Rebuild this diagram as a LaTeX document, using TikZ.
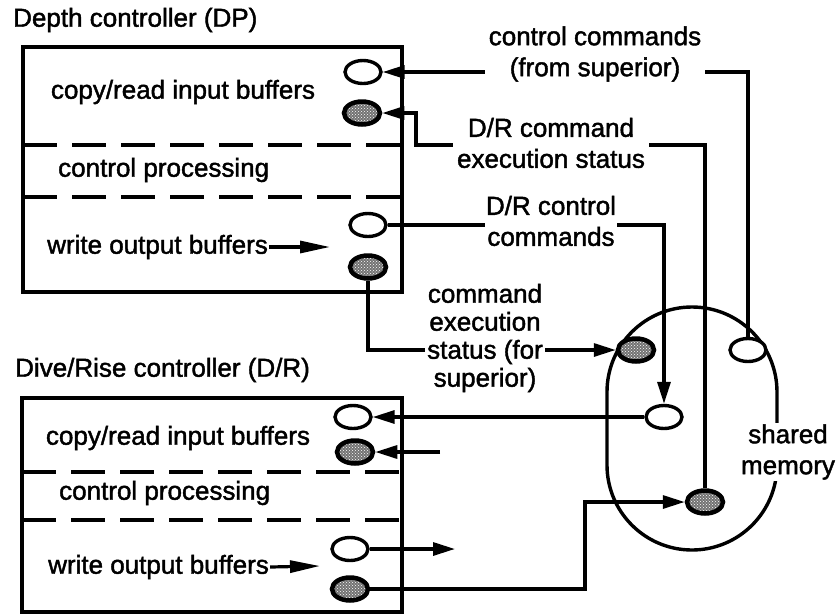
\documentclass[tikz,border=0pt]{standalone}
\usepackage{fontspec}
\setmainfont{Liberation Sans}[RawFeature={embolden=1.6}]
\usetikzlibrary{arrows.meta, shapes.geometric, patterns}

\begin{document}
\begin{tikzpicture}[
  x=1pt, y=-1pt,
  font=\fontsize{26}{31}\selectfont,
  txt/.style={inner sep=1pt},
  box/.style={line width=3.4pt},
  sep/.style={line width=3.4pt, dash pattern=on 34pt off 15pt},
  buf/.style={ellipse, draw=black, line width=3.4pt, minimum width=36pt, minimum height=23pt, inner sep=0pt},
  open/.style={buf, fill=white},
  full/.style={buf, line width=4.5pt, preaction={fill=black!55}, pattern=crosshatch dots, pattern color=white},
  wire/.style={line width=3.2pt},
  arr/.style={wire, -{Triangle[length=22pt, width=13pt]}},
  warr/.style={wire, -{Triangle[length=30pt, width=12pt]}},
  lbl/.style={fill=white, align=center, inner xsep=4pt, inner ysep=1pt}
]
\useasboundingbox (0,0) rectangle (836,614);

\node[txt, anchor=west] (dpT) at (12,20) {Depth controller (DP)};
\draw[box] (23,47) rectangle (402,292);
\draw[sep] (23,145) -- (402,145);
\draw[sep] (23,197) -- (402,197);
\node[txt] (dpA) at (183,92) {copy/read input buffers};
\node[txt, anchor=west] (dpB) at (57,170) {control processing};
\node[txt, anchor=west] (dpC) at (46,247) {write output buffers};
\coordinate (dpCe) at (330,247);
\draw[warr] (dpC.east) -- (dpCe);
\node[open] (dpIn)  at (363,72)  {};
\node[full] (dpSt)  at (362,113) {};
\node[open] (dpOut) at (368,225) {};
\node[full] (dpSo)  at (368,267) {};

\node[txt, anchor=west] (drT) at (14,370) {Dive/Rise controller (D/R)};
\draw[box] (22,398) rectangle (402,612);
\draw[sep] (22,472) -- (402,472);
\draw[sep] (22,520) -- (402,520);
\node[txt] (drA) at (178,438) {copy/read input buffers};
\node[txt, anchor=west] (drB) at (58,493) {control processing};
\node[txt, anchor=west] (drC) at (47,567) {write output buffers};
\coordinate (drCe) at (320,566);
\draw[warr] (drC.east) -- (drCe);
\node[open] (drIn)  at (353,417) {};
\node[full] (drSt)  at (355,452) {};
\node[open] (drOut) at (350,549) {};
\node[full] (drSo)  at (350,589) {};

\draw[box, rounded corners=85pt] (607,307) rectangle (777,550);
\node[lbl] (smT) at (788,452) {shared\\memory};
\node[open] (smSup) at (748,350) {};
\node[full] (smFor) at (636,350) {};
\node[open] (smCmd) at (664,417) {};
\node[full] (smSt)  at (705,502) {};

\draw[arr] (smSup.north) |- (dpIn.east);
\node[lbl] (lbSup) at (595,54) {control commands\\(from superior)};

\coordinate (kSt) at (416,145);
\draw[arr] (smSt.north) |- (kSt) |- (dpSt.east);
\node[lbl] (lbSt) at (551,143) {D/R command\\execution status};

\draw[arr] (dpOut.east) -| (smCmd.north);
\node[lbl, inner xsep=1pt] (lbCmd) at (551,221) {D/R control\\commands};

\draw[arr] (dpSo.south) |- (smFor.west);
\node[lbl, inner xsep=2pt, font=\fontsize{26}{28}\selectfont] (lbFor) at (485,338) {command\\execution\\status (for\\superior)};

\draw[arr] (smCmd.west) -- (drIn.east);
\coordinate (drStE) at (440,452);
\draw[arr] (drStE) -- (drSt.east);
\coordinate (drOutE) at (455,549);
\draw[arr] (drOut.east) -- (drOutE);
\coordinate (kSo) at (585,589);
\draw[arr] (drSo.east) -- (kSo) |- (smSt.west);
\end{tikzpicture}
\end{document}
